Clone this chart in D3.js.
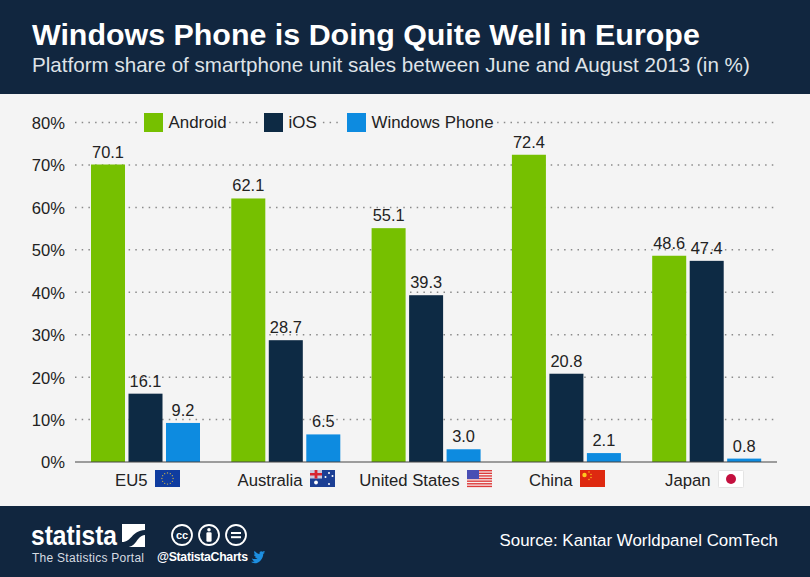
<!DOCTYPE html>
<html><head><meta charset="utf-8">
<script src="https://cdn.jsdelivr.net/npm/d3@7"></script>
<style>
html,body{margin:0;padding:0;background:#f4f4f4}
svg{display:block}
text{font-family:"Liberation Sans",Arial,sans-serif}
</style></head><body>
<svg id="c" width="810" height="577"></svg>
<script>
const categories=["EU5","Australia","United States","China","Japan"];
const seriesNames=["Android","iOS","Windows Phone"];
const android=[70.1,62.1,55.1,72.4,48.6];
const ios=[16.1,28.7,39.3,20.8,47.4];
const windowsPhone=[9.2,6.5,3.0,2.1,0.8];
const yTicks=[0,10,20,30,40,50,60,70,80];
const seriesColors=["#76c000","#0d2a44","#0d8be0"];
const title="Windows Phone is Doing Quite Well in Europe";
const subtitle="Platform share of smartphone unit sales between June and August 2013 (in %)";
const source="Source: Kantar Worldpanel ComTech";

const navy="#11263f";
const svg=d3.select("#c");
svg.append("rect").attr("width",810).attr("height",577).attr("fill","#f4f4f4");
svg.append("rect").attr("width",810).attr("height",94).attr("fill",navy);
svg.append("rect").attr("y",506).attr("width",810).attr("height",71).attr("fill",navy);
svg.append("text").attr("x",32).attr("y",45).attr("fill","#fff").attr("font-size",30.4).attr("font-weight",700).text(title);
svg.append("text").attr("x",32).attr("y",72).attr("fill","#dfe3e8").attr("font-size",20.6).text(subtitle);

const y=d3.scaleLinear().domain([0,80]).range([462,122.5]);
const x0=d3.scaleBand().domain(categories).range([75,776.5]);
const x1=d3.scaleBand().domain(seriesNames).range([16,125]).paddingInner(0.093);

const yAxis=d3.axisLeft(y).tickValues(yTicks).tickFormat(d=>d+"%").tickSize(0).tickPadding(0);
const ga=svg.append("g").attr("transform","translate(65,0)").call(yAxis);
ga.select(".domain").remove();
ga.selectAll("text").attr("font-size",16.6).attr("fill","#222").attr("dy","0.36em");
svg.append("g").selectAll("line").data(yTicks.filter(d=>d>0)).join("line")
  .attr("x1",75).attr("x2",777).attr("y1",d=>y(d)).attr("y2",d=>y(d))
  .attr("stroke","#8a8a8a").attr("stroke-width",1.5).attr("stroke-dasharray","1.5 5.2");

const legendX=[144,264,347];
const legendBg=[[137,91],[258,60],[341,156]];
svg.append("g").selectAll("rect").data(legendBg).join("rect")
  .attr("x",d=>d[0]).attr("width",d=>d[1]).attr("y",112).attr("height",20).attr("fill","#f4f4f4");
const lg=svg.append("g").selectAll("g").data(seriesNames).join("g")
  .attr("transform",(d,i)=>`translate(${legendX[i]},113)`);
lg.append("rect").attr("width",19).attr("height",19).attr("fill",(d,i)=>seriesColors[i]);
lg.append("text").attr("x",24.5).attr("y",15).attr("font-size",16.9).attr("fill","#222").text(d=>d);

const seriesValues=[android,ios,windowsPhone];
const groups=svg.append("g").selectAll("g").data(categories).join("g")
  .attr("transform",d=>`translate(${x0(d)},0)`);
const barData=(c,ci)=>seriesNames.map((s,si)=>({s,si,v:seriesValues[si][ci]}));
const marks=groups.selectAll("g").data(barData).join("g");
marks.append("rect").attr("x",d=>x1(d.s)).attr("width",x1.bandwidth())
  .attr("y",d=>y(d.v)).attr("height",d=>y(0)-y(d.v)).attr("fill",d=>seriesColors[d.si]);
marks.append("text").attr("x",d=>x1(d.s)+x1.bandwidth()/2).attr("y",d=>y(d.v)-7)
  .attr("text-anchor","middle").attr("font-size",16.4).attr("fill","#222").text(d=>d.v.toFixed(1));
svg.append("line").attr("x1",75).attr("x2",777).attr("y1",462).attr("y2",462).attr("stroke","#444").attr("stroke-width",1.2);

const flagX=[155,310,467,580,718];
const cl=svg.append("g").selectAll("g").data(categories).join("g")
  .attr("transform",(d,i)=>`translate(${flagX[i]},470)`);
cl.append("text").attr("x",-7.5).attr("y",16).attr("text-anchor","end").attr("font-size",16.7).attr("fill","#222").text(d=>d);

function flagEU(g){g.append("rect").attr("width",25).attr("height",17).attr("fill","#0f3c9f");
  g.append("g").selectAll("circle").data(d3.range(12)).join("circle")
   .attr("cx",i=>12.5+5.6*Math.cos(i*Math.PI/6)).attr("cy",i=>8.5+5.6*Math.sin(i*Math.PI/6)).attr("r",.65).attr("fill","#c9b14a");}
function flagAU(g){g.append("rect").attr("width",25).attr("height",17).attr("fill","#1c3f94");
  g.append("rect").attr("width",12).attr("height",8.5).attr("fill","#c9c9dd");
  g.append("rect").attr("x",4.6).attr("width",2.8).attr("height",8.5).attr("fill","#d8232f");
  g.append("rect").attr("y",3).attr("width",12).attr("height",2.5).attr("fill","#d8232f");
  [[6,12.5,1.9],[19,3,1],[19,14,1],[15.5,7,1],[22.5,6,1]].forEach(s=>g.append("circle").attr("cx",s[0]).attr("cy",s[1]).attr("r",s[2]).attr("fill","#fff"));}
function flagUS(g){g.append("rect").attr("width",25).attr("height",17).attr("fill","#f6f0f0");
  d3.range(0,7).forEach(i=>g.append("rect").attr("y",i*2.62).attr("width",25).attr("height",1.4).attr("fill","#dd3b3b"));
  g.append("rect").attr("width",12).attr("height",9).attr("fill","#4a4fb4");}
function flagCN(g){g.append("rect").attr("width",25).attr("height",17).attr("fill","#de2910");
  g.append("circle").attr("cx",4.5).attr("cy",5).attr("r",2.2).attr("fill","#ffc91f");
  [[9,2],[11,4.5],[11,7.5],[9,9.5]].forEach(s=>g.append("circle").attr("cx",s[0]).attr("cy",s[1]).attr("r",.7).attr("fill","#ffc91f"));}
function flagJP(g){g.append("rect").attr("x",.5).attr("y",.5).attr("width",25).attr("height",17).attr("rx",1).attr("fill","#fff").attr("stroke","#e4e4e4");
  g.append("circle").attr("cx",13).attr("cy",9).attr("r",5).attr("fill","#c4103f");}
[flagEU,flagAU,flagUS,flagCN,flagJP].forEach((f,i)=>f(cl.filter((d,j)=>j===i).append("g")));

svg.append("text").attr("x",31).attr("y",544.5).attr("fill","#fff").attr("font-size",28.5).attr("font-weight",700)
  .style("font-family",'"Liberation Sans Narrow","Liberation Sans",sans-serif').attr("textLength",86).attr("lengthAdjust","spacingAndGlyphs").text("statista");
svg.append("rect").attr("x",122).attr("y",524).attr("width",23).attr("height",23).attr("fill","#fff");
svg.append("path").attr("d","M122 542C132 542 131 531 145 530L145 535C136 536 137 547 127 547L122 547Z").attr("fill",navy);
svg.append("text").attr("x",32).attr("y",561.5).attr("fill","#d7dce2").attr("font-size",12).attr("textLength",112).text("The Statistics Portal");
const icons=[["cc",182],["",209],["=",236]];
const ic=svg.append("g").selectAll("g").data(icons).join("g").attr("transform",d=>`translate(${d[1]},535)`);
ic.append("circle").attr("r",10).attr("fill","none").attr("stroke","#fff").attr("stroke-width",1.8);
ic.filter(d=>d[0]==="cc").append("text").attr("text-anchor","middle").attr("y",4).attr("font-size",11).attr("font-weight",700).attr("fill","#fff").text("cc");
const person=ic.filter(d=>d[0]==="");
person.append("circle").attr("cy",-5.2).attr("r",1.8).attr("fill","#fff");
person.append("rect").attr("x",-2.6).attr("y",-2.7).attr("width",5.2).attr("height",9.5).attr("rx",1.2).attr("fill","#fff");
const eq=ic.filter(d=>d[0]==="=");
eq.append("rect").attr("x",-5).attr("y",-3).attr("width",10).attr("height",2).attr("fill","#fff");
eq.append("rect").attr("x",-5).attr("y",1.2).attr("width",10).attr("height",2).attr("fill","#fff");
svg.append("text").attr("x",157).attr("y",561).attr("fill","#fff").attr("font-size",12.3).attr("font-weight",700).attr("textLength",91).text("@StatistaCharts");
svg.append("path").attr("d","M251 555C254 557 258 556 259 555C257 555 256 554 255 553C256 553 257 553 257 553C255 552 254 551 254 549C255 550 255 550 256 550C254 548 254 546 255 545C257 547 259 549 262 549C261 546 264 544 266 546C267 546 268 545 269 545C269 546 268 547 267 547C268 547 269 547 269 547C269 548 268 548 267 549C267 555 262 562 255 562C253 562 251 561 250 560C252 560 254 560 255 559C253 559 252 557 251 555Z")
  .attr("transform","translate(251,551) scale(.72) translate(-250,-545)").attr("fill","#1d8fe1");
svg.append("text").attr("x",778).attr("y",546).attr("text-anchor","end").attr("fill","#fff").attr("font-size",16.9).text(source);
</script></body></html>
